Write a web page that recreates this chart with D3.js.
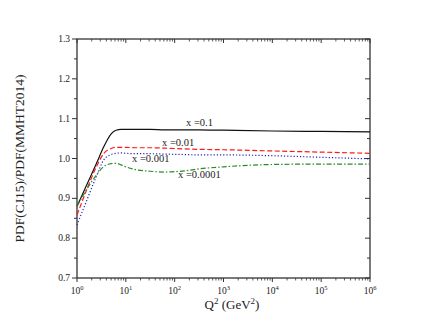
<!DOCTYPE html>
<html>
<head>
<meta charset="utf-8">
<script src="https://cdn.jsdelivr.net/npm/d3@7"></script>
<style>
  body { margin: 0; background: #fff; }
  svg text { font-family: "Liberation Serif", "DejaVu Serif", serif; fill: #222; }
</style>
</head>
<body>
<div id="chart"></div>
<script>
// Q^2 sample points (GeV^2)
const q2 = [1, 1.585, 2.512, 3.548, 5.012, 6.31, 7.943, 10, 15.85, 31.62, 63.1, 158.5, 316.2, 1000, 1e4, 1e5, 1e6];

// PDF ratio CJ15 / MMHT2014 for each x
const ratioX01    = [0.880, 0.934, 0.988, 1.030, 1.062, 1.071, 1.073, 1.073, 1.073, 1.073, 1.072, 1.072, 1.072, 1.071, 1.069, 1.068, 1.067];
const ratioX001   = [0.858, 0.922, 0.980, 1.013, 1.025, 1.028, 1.028, 1.028, 1.027, 1.027, 1.026, 1.024, 1.023, 1.022, 1.019, 1.016, 1.013];
const ratioX0001  = [0.833, 0.895, 0.956, 0.997, 1.010, 1.013, 1.014, 1.013, 1.012, 1.012, 1.011, 1.010, 1.009, 1.009, 1.007, 1.003, 0.999];
const ratioX00001 = [0.880, 0.923, 0.959, 0.980, 0.987, 0.988, 0.984, 0.979, 0.972, 0.968, 0.966, 0.969, 0.974, 0.979, 0.985, 0.986, 0.986];

const yTicks = [0.7, 0.8, 0.9, 1.0, 1.1, 1.2, 1.3];
const xTicks = [1, 10, 100, 1e3, 1e4, 1e5, 1e6];

const series = [
    { label: "x =0.1",    values: ratioX01,    color: "#111",    dash: null,        lx: 186, ly: 126 },
    { label: "x =0.01",   values: ratioX001,   color: "#ff1a1a", dash: "5 2.5",     lx: 162, ly: 146 },
    { label: "x =0.001",  values: ratioX0001,  color: "#2222bb", dash: "1.2 2",     lx: 132, ly: 162 },
    { label: "x =0.0001", values: ratioX00001, color: "#2a8a2a", dash: "5 2 1.5 2", lx: 178, ly: 178 }
];

const svgWidth = 430, svgHeight = 333;
const margin = { top: 39, right: 60, bottom: 55, left: 77 };
const innerW = svgWidth - margin.left - margin.right;
const innerH = svgHeight - margin.top - margin.bottom;

const svg = d3.select("#chart").append("svg")
    .attr("width", svgWidth)
    .attr("height", svgHeight);

const chart = svg.append("g")
    .attr("transform", `translate(${margin.left},${margin.top})`);

const xScale = d3.scaleLog().domain([1, 1e6]).range([0, innerW]);
const yScale = d3.scaleLinear().domain([0.7, 1.3]).range([innerH, 0]);

// minor ticks
const xMinor = [];
for (let e = 0; e < 6; e++) for (let m = 2; m <= 9; m++) xMinor.push(m * Math.pow(10, e));
const yMinor = d3.range(0.75, 1.3, 0.1);

const tickColor = "#333";
// bottom ticks (outward), top ticks (inward, same direction)
[innerH, 0].forEach(yy => {
    chart.selectAll(null).data(xTicks).enter().append("line")
        .attr("x1", d => xScale(d)).attr("x2", d => xScale(d))
        .attr("y1", yy).attr("y2", yy + 4)
        .attr("stroke", tickColor).attr("stroke-width", 1);
    chart.selectAll(null).data(xMinor).enter().append("line")
        .attr("x1", d => xScale(d)).attr("x2", d => xScale(d))
        .attr("y1", yy).attr("y2", yy + 2.5)
        .attr("stroke", tickColor).attr("stroke-width", 0.8);
});
// left ticks (outward), right ticks (inward)
[0, innerW].forEach(xx => {
    chart.selectAll(null).data(yTicks).enter().append("line")
        .attr("x1", xx - 5).attr("x2", xx)
        .attr("y1", d => yScale(d)).attr("y2", d => yScale(d))
        .attr("stroke", tickColor).attr("stroke-width", 1);
    chart.selectAll(null).data(yMinor).enter().append("line")
        .attr("x1", xx - 3).attr("x2", xx)
        .attr("y1", d => yScale(d)).attr("y2", d => yScale(d))
        .attr("stroke", tickColor).attr("stroke-width", 1);
});

// frame
chart.append("rect")
    .attr("width", innerW).attr("height", innerH)
    .attr("fill", "none").attr("stroke", "#333").attr("stroke-width", 1.3);

// y tick labels
chart.selectAll(null).data(yTicks).enter().append("text")
    .attr("x", -7).attr("y", d => yScale(d) + 3)
    .attr("text-anchor", "end")
    .style("font-size", "9.5px")
    .text(d => d.toFixed(1));

// x tick labels 10^n
const xl = chart.selectAll(null).data(xTicks).enter().append("text")
    .attr("x", d => xScale(d)).attr("y", innerH + 16)
    .attr("text-anchor", "middle")
    .style("font-size", "9.5px");
xl.append("tspan").text("10");
xl.append("tspan").attr("dy", -4).style("font-size", "6.5px").text(d => Math.round(Math.log10(d)));

// curves
const line = d3.line()
    .x((d, i) => xScale(q2[i]))
    .y(d => yScale(d))
    .curve(d3.curveMonotoneX);

series.forEach(s => {
    chart.append("path")
        .datum(s.values)
        .attr("d", line)
        .attr("fill", "none")
        .attr("stroke", s.color)
        .attr("stroke-width", 1.2)
        .attr("stroke-dasharray", s.dash);
    svg.append("text")
        .attr("x", s.lx).attr("y", s.ly)
        .style("font-size", "10.5px")
        .text(s.label);
});

// axis titles
svg.append("text")
    .attr("transform", `translate(24,${margin.top + innerH / 2}) rotate(-90)`)
    .attr("text-anchor", "middle")
    .style("font-size", "13.5px")
    .text("PDF(CJ15)/PDF(MMHT2014)");

const xt = svg.append("text")
    .attr("x", 232).attr("y", 309)
    .attr("text-anchor", "middle")
    .style("font-size", "13px");
xt.append("tspan").text("Q");
xt.append("tspan").attr("dy", -5).style("font-size", "9px").text("2");
xt.append("tspan").attr("dy", 5).text(" (GeV");
xt.append("tspan").attr("dy", -5).style("font-size", "9px").text("2");
xt.append("tspan").attr("dy", 5).text(")");
</script>
</body>
</html>
